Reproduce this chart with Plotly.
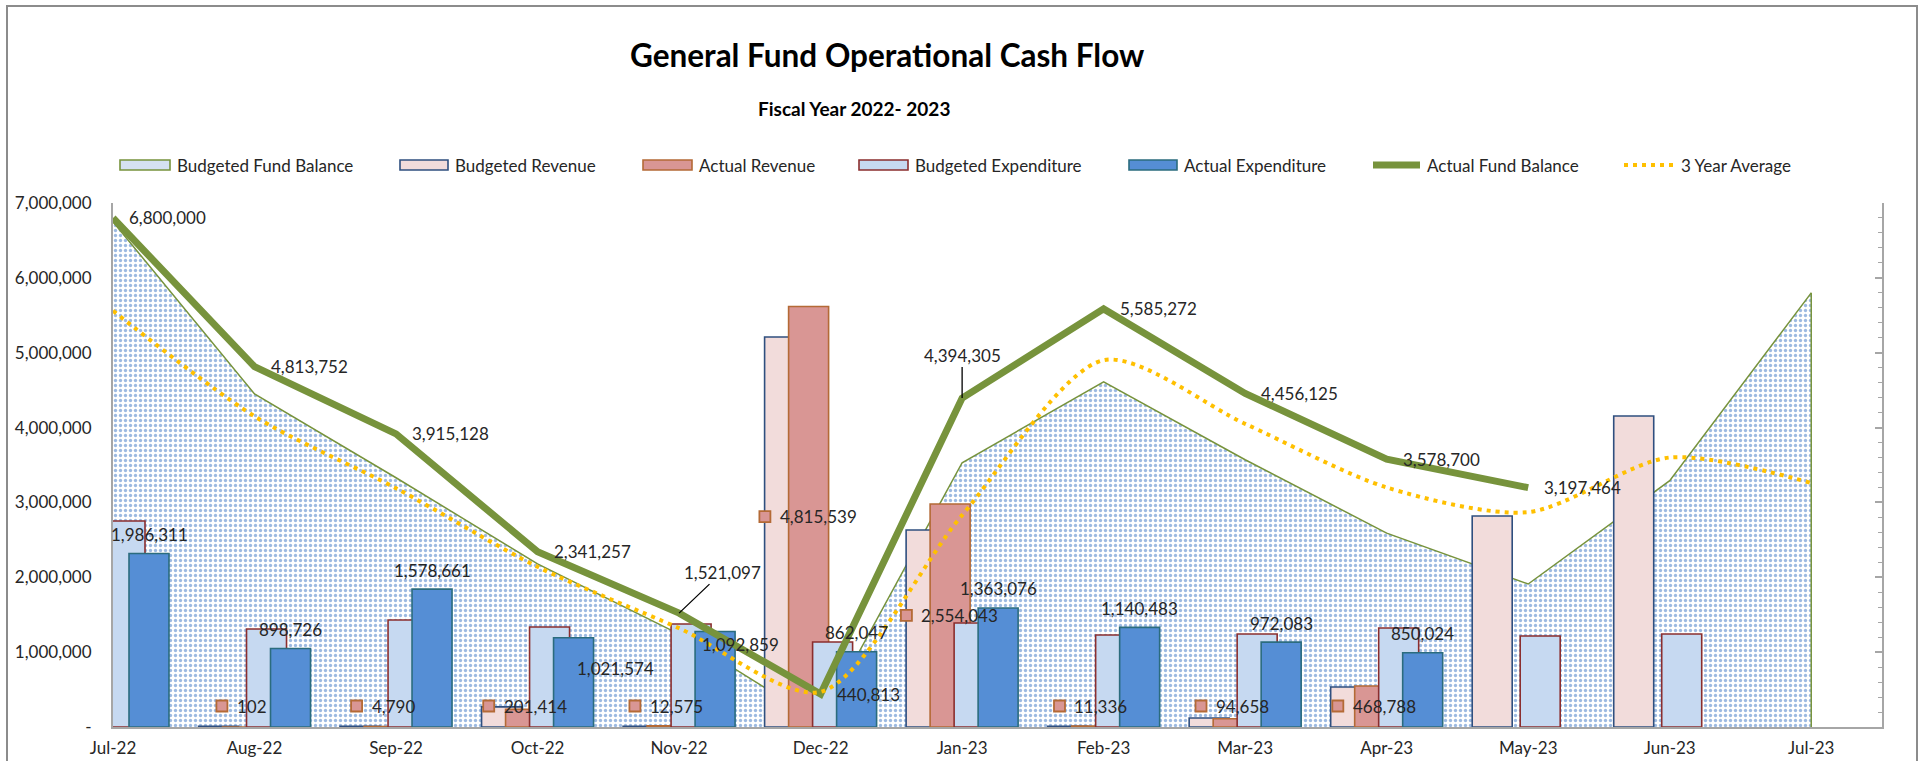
import plotly.graph_objects as go

# ---------------- data ----------------
months = ["Jul-22", "Aug-22", "Sep-22", "Oct-22", "Nov-22", "Dec-22", "Jan-23",
          "Feb-23", "Mar-23", "Apr-23", "May-23", "Jun-23", "Jul-23"]
budgeted_fund_balance = [6750000, 4450000, 3330000, 2180000, 1240000, 60000, 3530000,
                         4610000, 3570000, 2590000, 1910000, 3290000, 5800000]
budgeted_revenue = [0, 8000, 8000, 231000, 8000, 4466000, 2256000,
                    8000, 103000, 458000, 2416000, 3561000, None]
actual_revenue = [63, 102, 4790, 201414, 12575, 4815539, 2554043,
                  11336, 94658, 468788, None, None, None]
budgeted_expenditure = [2359000, 1122000, 1225000, 1145000, 1179000, 973000, 1191000,
                        1053000, 1065000, 1134000, 1042000, 1065000, None]
actual_expenditure = [1986311, 898726, 1578661, 1021574, 1092859, 862047, 1363076,
                      1140483, 972083, 850024, None, None, None]
actual_fund_balance = [6800000, 4813752, 3915128, 2341257, 1521097, 440813, 4394305,
                       5585272, 4456125, 3578700, 3197464, None, None]
three_year_average = [5560000, 4150000, 3190000, 2140000, 1320000, 470000, 2830000,
                      4900000, 4050000, 3200000, 2870000, 3600000, 3260000]
y_ticks = [0, 1000000, 2000000, 3000000, 4000000, 5000000, 6000000, 7000000]
y_tick_text = ["-", "1,000,000", "2,000,000", "3,000,000", "4,000,000",
               "5,000,000", "6,000,000", "7,000,000"]
legend_names = ["Budgeted Fund Balance", "Budgeted Revenue", "Actual Revenue",
                "Budgeted Expenditure", "Actual Expenditure", "Actual Fund Balance",
                "3 Year Average"]

# ---------------- layout constants (pixels) ----------------
W, H = 1929, 761
PL, PR, PT, PB = 113, 1882, 203, 727
XMAX = 12.5
PXC = (PR - PL) / XMAX          # pixels per category
Y1MAX, Y2MAX = 7000000, 6000000
FONT = "Lato"
TXT = "#262626"

C_AREA_LINE = "#77933C"
C_BR, C_BR_L = "#F2DCDB", "#2F4F7F"
C_AR, C_AR_L = "#D99694", "#B46A36"
C_BE, C_BE_L = "#C6D9F1", "#8B2E2E"
C_AE, C_AE_L = "#558ED5", "#2B6C7E"
C_AFB = "#77933C"
C_AVG = "#FFC000"
C_AXIS = "#A6A6A6"

BAR_W = 40
OFF = {"br": -56, "ar": -32, "be": -8, "ae": 16}

idx = list(range(len(months)))


def px2x(p):
    return p / PXC


def xp(p):
    return (p - PL) / (PR - PL)


def yp(p):
    return (PB - p) / (PB - PT)


fig = go.Figure()

# Budgeted fund balance area (primary axis, behind bars)
fig.add_trace(go.Scatter(
    x=idx, y=budgeted_fund_balance, mode="lines", fill="tozeroy",
    line=dict(color=C_AREA_LINE, width=1.5),
    fillcolor="white",
    fillpattern=dict(shape=".", fgcolor="#3A74C4", bgcolor="white", size=5, solidity=0.35),
    hoverinfo="skip", showlegend=False, xaxis="x", yaxis="y"))
# right edge of the area
fig.add_trace(go.Scatter(
    x=[idx[-1], idx[-1]], y=[0, budgeted_fund_balance[-1]], mode="lines",
    line=dict(color=C_AREA_LINE, width=1.5),
    hoverinfo="skip", showlegend=False, xaxis="x", yaxis="y"))

# Bars (secondary scale 0-6M)
bar_specs = [
    (budgeted_revenue, "br", C_BR, C_BR_L),
    (actual_revenue, "ar", C_AR, C_AR_L),
    (budgeted_expenditure, "be", C_BE, C_BE_L),
    (actual_expenditure, "ae", C_AE, C_AE_L),
]
for vals, key, fc, lc in bar_specs:
    fig.add_trace(go.Bar(
        x=idx, y=vals, offset=px2x(OFF[key]), width=px2x(BAR_W),
        marker=dict(color=fc, line=dict(color=lc, width=1.6)),
        hoverinfo="skip", showlegend=False, xaxis="x", yaxis="y2"))

# Actual revenue label keys (squares) + labels
ar_center = OFF["ar"] + BAR_W / 2
min_lab = 21 * Y2MAX / (PB - PT)
sq_x, sq_y = [], []
for i, v in enumerate(actual_revenue):
    if v is None or i == 0:
        continue
    s = f"{v:,}"
    nd = sum(c.isdigit() for c in s)
    nc = s.count(",")
    w = 9.4 * nd + 4.3 * nc
    sq_px = ar_center - (w + 23) / 2 + 5
    ly = max(v / 2, min_lab)
    sq_x.append(i + px2x(sq_px))
    sq_y.append(ly)
    fig.add_annotation(x=i + px2x(sq_px + 13), y=ly, xref="x", yref="y2", text=s,
                       showarrow=False, xanchor="left", yanchor="middle",
                       font=dict(family=FONT, size=17, color=TXT))
fig.add_trace(go.Scatter(
    x=sq_x, y=sq_y, mode="markers",
    marker=dict(symbol="square", size=11, color=C_AR, line=dict(color=C_AR_L, width=1.8)),
    hoverinfo="skip", showlegend=False, xaxis="x", yaxis="y2"))

# Actual expenditure labels
ae_center = OFF["ae"] + BAR_W / 2
ae_label_shift = {3: (42, -31), 4: (25, -13)}
for i, v in enumerate(actual_expenditure):
    if v is None:
        continue
    dx, dy = ae_label_shift.get(i, (0, 19))
    fig.add_annotation(x=i + px2x(ae_center + dx), y=v, xref="x", yref="y2", text=f"{v:,}",
                       showarrow=False, xanchor="center", yanchor="middle",
                       yshift=dy,
                       font=dict(family=FONT, size=17, color=TXT))

# Lines (third overlay axis 0-7M, above bars)
fig.add_trace(go.Scatter(
    x=idx, y=actual_fund_balance, mode="lines",
    line=dict(color=C_AFB, width=7),
    hoverinfo="skip", showlegend=False, xaxis="x", yaxis="y3"))
fig.add_trace(go.Scatter(
    x=idx, y=three_year_average, mode="lines",
    line=dict(color=C_AVG, width=4, dash="4px,5px", shape="spline", smoothing=0.8),
    hoverinfo="skip", showlegend=False, xaxis="x", yaxis="y3"))

# Fund balance labels
fb_leader = {4: (43, -41), 6: (0, -43)}
for i, v in enumerate(actual_fund_balance):
    if v is None:
        continue
    if i in fb_leader:
        ax, ay = fb_leader[i]
        fig.add_annotation(x=i, y=v, xref="x", yref="y3", text=f"{v:,}",
                           showarrow=True, arrowhead=0, arrowwidth=1.3, arrowcolor="#000000",
                           ax=ax, ay=ay, standoff=0,
                           font=dict(family=FONT, size=17, color=TXT))
    else:
        fig.add_annotation(x=i, y=v, xref="x", yref="y3", text=f"{v:,}",
                           showarrow=False, xanchor="left", yanchor="middle", xshift=14,
                           font=dict(family=FONT, size=17, color=TXT))

# ---------------- title ----------------
fig.add_annotation(x=xp(887), y=yp(55), xref="paper", yref="paper",
                   text="<b>General Fund Operational Cash Flow</b>", showarrow=False,
                   xanchor="center", yanchor="middle",
                   font=dict(family=FONT, size=31.5, color="#000000"))
fig.add_annotation(x=xp(854), y=yp(108), xref="paper", yref="paper",
                   text="<b>Fiscal Year 2022- 2023</b>", showarrow=False,
                   xanchor="center", yanchor="middle",
                   font=dict(family=FONT, size=19, color="#000000"))

# ---------------- custom legend ----------------
LEG_Y = 165
leg_keys = [
    ("rect", 120, 170, "#D5E1F2", C_AREA_LINE),
    ("rect", 400, 448, C_BR, C_BR_L),
    ("rect", 643, 692, C_AR, C_AR_L),
    ("rect", 859, 908, C_BE, C_BE_L),
    ("rect", 1129, 1177, C_AE, C_AE_L),
    ("thick", 1373, 1420, C_AFB, None),
    ("dot", 1624, 1674, C_AVG, None),
]
shapes = []
for (kind, x0, x1, c1, c2), name in zip(leg_keys, legend_names):
    if kind == "rect":
        shapes.append(dict(type="rect", xref="paper", yref="paper",
                           x0=xp(x0), x1=xp(x1), y0=yp(LEG_Y + 5), y1=yp(LEG_Y - 5),
                           fillcolor=c1, line=dict(color=c2, width=1.6), layer="above"))
    elif kind == "thick":
        shapes.append(dict(type="line", xref="paper", yref="paper",
                           x0=xp(x0), x1=xp(x1), y0=yp(LEG_Y), y1=yp(LEG_Y),
                           line=dict(color=c1, width=7), layer="above"))
    else:
        shapes.append(dict(type="line", xref="paper", yref="paper",
                           x0=xp(x0), x1=xp(x1), y0=yp(LEG_Y), y1=yp(LEG_Y),
                           line=dict(color=c1, width=4, dash="4px,5px"), layer="above"))
    fig.add_annotation(x=xp(x1 + 5), y=yp(LEG_Y), xref="paper", yref="paper",
                       text=name, showarrow=False, xanchor="left", yanchor="middle",
                       font=dict(family=FONT, size=17, color=TXT))

# chart border
shapes.append(dict(type="rect", xref="paper", yref="paper",
                   x0=xp(7), x1=xp(1917), y0=yp(790), y1=yp(6),
                   line=dict(color="#8C8C8C", width=2), fillcolor="rgba(0,0,0,0)", layer="above"))

fig.update_layout(
    width=W, height=H,
    margin=dict(l=PL, r=W - PR, t=PT, b=H - PB, pad=0, autoexpand=False),
    paper_bgcolor="white", plot_bgcolor="white",
    barmode="overlay",
    shapes=shapes,
    font=dict(family=FONT, size=17, color=TXT),
    xaxis=dict(range=[0, XMAX], tickmode="array", tickvals=idx, ticktext=months,
               showgrid=False, zeroline=False, showline=True, linecolor=C_AXIS,
               linewidth=2, ticks="", ticklabelstandoff=5, automargin=False,
               tickfont=dict(family=FONT, size=17, color=TXT)),
    yaxis=dict(range=[0, Y1MAX], tickmode="array", tickvals=y_ticks, ticktext=y_tick_text,
               showgrid=False, zeroline=False, showline=True, linecolor=C_AXIS,
               linewidth=2, ticks="", ticklabelstandoff=16, automargin=False,
               tickfont=dict(family=FONT, size=17, color=TXT)),
    yaxis2=dict(range=[0, Y2MAX], overlaying="y", visible=False, automargin=False),
    yaxis3=dict(range=[0, Y1MAX], overlaying="y", side="right", showgrid=False,
                zeroline=False, showline=True, linecolor=C_AXIS, linewidth=2,
                showticklabels=False, ticks="inside", ticklen=7, tickwidth=1.5,
                tickcolor=C_AXIS, dtick=1000000, automargin=False,
                minor=dict(ticks="inside", ticklen=4, tickwidth=1.2, tickcolor=C_AXIS,
                           dtick=200000, showgrid=False)),
)

fig.write_html("out.html")
